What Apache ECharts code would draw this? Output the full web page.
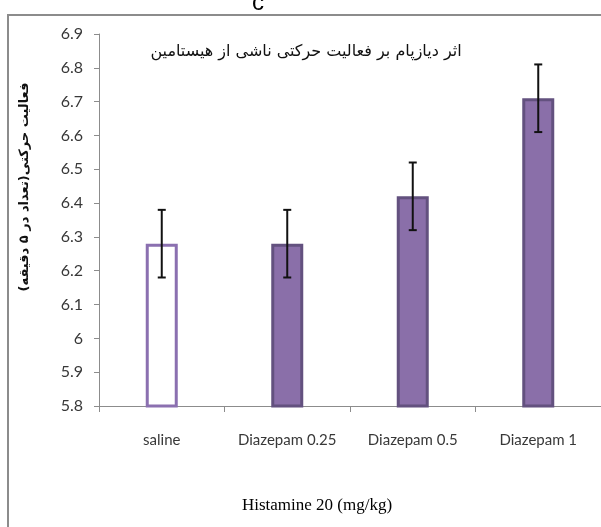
<!DOCTYPE html>
<html>
<head>
<meta charset="utf-8">
<script src="https://cdn.jsdelivr.net/npm/echarts@6/dist/echarts.min.js"></script>
<style>html,body{margin:0;padding:0;background:#fff}#c{width:601px;height:527px}</style>
</head>
<body>
<div id="c"></div>
<script>
const categories = ['saline', 'Diazepam 0.25', 'Diazepam 0.5', 'Diazepam 1'];
const values = [6.28, 6.28, 6.42, 6.71];
const errors = [0.1, 0.1, 0.1, 0.1];
const yTicks = [5.8, 5.9, 6.0, 6.1, 6.2, 6.3, 6.4, 6.5, 6.6, 6.7, 6.8, 6.9];
const titleText = 'اثر دیازپام بر فعالیت حرکتی ناشی از هیستامین';
const yTitle = 'فعالیت حرکتی(تعداد در ۵ دقیقه)';
const xTitle = 'Histamine 20 (mg/kg)';
const panelLabel = 'c';

const chart = echarts.init(document.getElementById('c'));
const barData = values.map((v, i) => i === 0
  ? { value: v, itemStyle: { color: '#ffffff', borderColor: '#8B70B0', borderWidth: 3 } }
  : { value: v });
const errData = values.map((v, i) => [i, v - errors[i], v + errors[i]]);

chart.setOption({
  animation: false,
  grid: { left: 99, top: 34, bottom: 121, width: 504, containLabel: false },
  graphic: [
    { type: 'rect', shape: { x: 8, y: 15, width: 700, height: 700 },
      style: { fill: 'none', stroke: '#8c8c8c', lineWidth: 2 }, silent: true, z: -1 },
    { type: 'text', x: 258, y: 3, style: { text: panelLabel, font: '24px "Liberation Sans"', fill: '#000', align: 'center', verticalAlign: 'middle' } },
    { type: 'text', x: 306, y: 52, style: { text: titleText, font: '16px "DejaVu Sans"', fill: '#111', align: 'center', verticalAlign: 'middle' } },
    { type: 'text', x: 25, y: 187, rotation: Math.PI / 2,
      style: { text: yTitle, font: 'bold 13px "DejaVu Sans"', fill: '#111', align: 'center', verticalAlign: 'middle' } },
    { type: 'text', x: 317, y: 506, style: { text: xTitle, font: '17px "Liberation Serif"', fill: '#000', align: 'center', verticalAlign: 'middle' } }
  ],
  xAxis: {
    type: 'category', data: categories,
    axisLine: { lineStyle: { color: '#8c8c8c', width: 1 } },
    axisTick: { show: true, length: 6, interval: 0, alignWithLabel: false, lineStyle: { color: '#8c8c8c' } },
    axisLabel: { interval: 0, hideOverlap: false, margin: 27, fontSize: 15, color: '#383838', fontFamily: 'Lato' }
  },
  yAxis: {
    type: 'value', min: yTicks[0], max: yTicks[yTicks.length - 1], interval: 0.1,
    splitLine: { show: false },
    axisLine: { show: true, lineStyle: { color: '#8c8c8c', width: 1 } },
    axisTick: { show: true, length: 5, lineStyle: { color: '#8c8c8c' } },
    axisLabel: { margin: 16, fontSize: 16, color: '#383838', fontFamily: 'Lato',
      formatter: v => String(+v.toFixed(1)) }
  },
  series: [
    { type: 'bar', data: barData, barWidth: 32,
      itemStyle: { color: '#8A6FA9', borderColor: '#63517F', borderWidth: 3 } },
    { type: 'custom', data: errData, z: 10,
      renderItem: (params, api) => {
        const x = api.coord([api.value(0), api.value(1)])[0];
        const lo = api.coord([api.value(0), api.value(1)])[1];
        const hi = api.coord([api.value(0), api.value(2)])[1];
        const s = { stroke: '#111', lineWidth: 2 };
        return { type: 'group', children: [
          { type: 'line', shape: { x1: x, y1: lo, x2: x, y2: hi }, style: s },
          { type: 'line', shape: { x1: x - 4, y1: lo, x2: x + 4, y2: lo }, style: s },
          { type: 'line', shape: { x1: x - 4, y1: hi, x2: x + 4, y2: hi }, style: s }
        ] };
      } }
  ]
});
</script>
</body>
</html>
